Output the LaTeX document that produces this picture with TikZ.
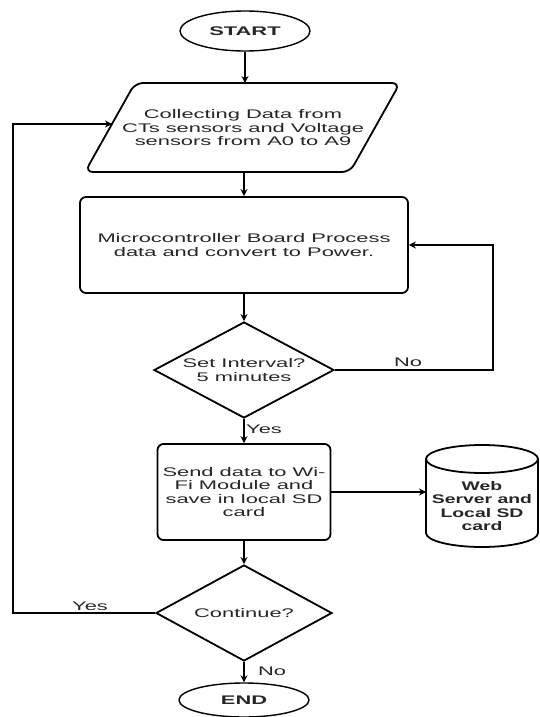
\documentclass[tikz,border=0pt]{standalone}
\usepackage{fontspec}
\setmainfont{Liberation Sans}[FakeStretch=1.75]
\newfontfamily\webfont{Liberation Sans}[FakeStretch=1.55]
\usetikzlibrary{shapes.geometric,arrows.meta}
\begin{document}
\begin{tikzpicture}[x=1pt,y=-1pt,
  every node/.style={font=\fontsize{12.5}{13.5}\selectfont, text=black!85},
  term/.style={ellipse, draw, line width=1.4pt, minimum width=130, minimum height=40, inner sep=0pt,
    font=\bfseries\fontsize{12.5}{13.5}\selectfont},
  proc/.style={rectangle, rounded corners=6pt, draw, line width=1.8pt, align=center},
  dec/.style={diamond, draw, line width=1.8pt, aspect=1.875, minimum width=180, minimum height=96,
    inner sep=0pt, align=center},
  conn/.style={draw, line width=1.1pt, -{Stealth[length=7pt,width=7pt]}},
  lbl/.style={inner sep=1pt}
]
\useasboundingbox (0,0) rectangle (540,717);

% START
\node[term] (start) at (245,31) {START};

% Parallelogram (input)
\draw[line width=1.8pt, rounded corners=8pt] (267,83) -- (400,83) -- (350,172) -- (85,172) -- (135,83) -- cycle;
\node[align=center] (collect) at (243,128) {Collecting Data from\\CTs sensors and Voltage\\sensors from A0 to A9};
\coordinate (ctop) at (245,83);
\coordinate (cbot) at (244,172);
\coordinate (cleft) at (112,124);

% Process
\node[proc, minimum width=328, minimum height=96] (micro) at (244,245) {Microcontroller Board Process\\data and convert to Power.};

% Decision 1
\node[dec] (interval) at (244,370) {Set Interval?\\5 minutes};

% Send box
\node[proc, minimum width=173, minimum height=96] (send) at (244,492) {Send data to Wi-\\Fi Module and\\save in local SD\\card};

% Cylinder
\draw[line width=1.8pt] (482,459) ellipse [x radius=56pt, y radius=14pt];
\draw[line width=1.8pt] (426,459) -- (426,533) arc[start angle=180, end angle=360, x radius=56pt, y radius=14pt] -- (538,459);
\node[align=center, inner sep=0pt, font=\webfont\bfseries\fontsize{12.5}{13.5}\selectfont] (web) at (482,506) {Web\\Server and\\Local SD\\card};
\coordinate (wleft) at (426,492);

% Decision 2
\node[dec, minimum width=176] (cont) at (244,613) {Continue?};

% END
\node[term, minimum height=34] (end) at (244,700) {END};

% Connectors
\coordinate (nocorner) at (493,370);
\coordinate (yescorner) at (13,613);
\draw[conn] (start) -- (ctop);
\draw[conn] (cbot) -- (micro.north);
\draw[conn] (micro) -- (interval);
\draw[conn] (interval.east) -- (nocorner) |- (micro.east);
\draw[conn] (interval) -- (send);
\draw[conn] (send.east) -- (wleft);
\draw[conn] (send) -- (cont);
\draw[conn] (cont) -- (end);
\draw[conn] (cont.west) -- (yescorner) |- (cleft);

% Labels
\node[lbl] (lno1) at (408,362) {No};
\node[lbl] (lyes1) at (264,429) {Yes};
\node[lbl] (lyes2) at (90,606) {Yes};
\node[lbl] (lno2) at (272,671) {No};
\end{tikzpicture}
\end{document}
